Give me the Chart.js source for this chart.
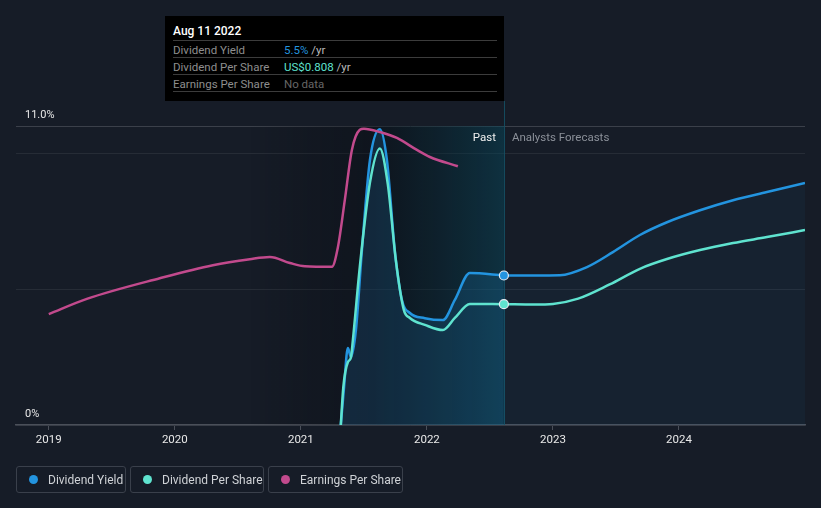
<!DOCTYPE html>
<html>
<head>
<meta charset="utf-8">
<script src="https://cdn.jsdelivr.net/npm/chart.js@4/dist/chart.umd.min.js"></script>
<style>
  html, body { margin:0; padding:0; background:#161c27; width:821px; height:508px; overflow:hidden; font-family: Roboto, "Noto Sans", sans-serif; }
  #wrap { position:relative; width:821px; height:508px; }
  canvas { position:absolute; left:0; top:0; }
  #tip { position:absolute; left:165px; top:16px; width:339px; height:85px; background:#000; box-sizing:border-box; padding:0 7px 0 8px; }
  #tip .hd { color:#fff; font-size:12px; font-weight:500; height:24px; line-height:30px; border-bottom:1px solid #3c3c3c; }
  #tip .row { height:16px; line-height:18px; border-bottom:1px solid #3c3c3c; font-size:11.5px; color:#8e8e8e; position:relative; white-space:nowrap; }
  #tip .row .v { position:absolute; left:111px; top:0; color:#bbb; }
  #legend { position:absolute; left:16px; top:466px; }
  .lg { position:absolute; top:0; height:27px; border:1px solid #3a404b; border-radius:3px; box-sizing:border-box; display:flex; align-items:center; padding-left:12px; color:#cfd2d6; font-size:12px; white-space:nowrap; }
  .lg i { display:inline-block; width:9px; height:9px; border-radius:50%; margin-right:10px; }
</style>
</head>
<body>
<div id="wrap">
  <canvas id="c" width="821" height="508"></canvas>
  <div id="tip">
    <div class="hd">Aug 11 2022</div>
    <div class="row">Dividend Yield<span class="v"><span style="color:#2394df">5.5%</span> /yr</span></div>
    <div class="row">Dividend Per Share<span class="v"><span style="color:#5fe3cf">US$0.808</span> /yr</span></div>
    <div class="row">Earnings Per Share<span class="v" style="color:#666">No data</span></div>
  </div>
  <div id="legend">
    <div class="lg" style="left:0;width:110px"><i style="background:#2394df"></i>Dividend Yield</div>
    <div class="lg" style="left:114px;width:134px"><i style="background:#5fe3cf"></i>Dividend Per Share</div>
    <div class="lg" style="left:252px;width:135px"><i style="background:#c24a8d"></i>Earnings Per Share</div>
  </div>
</div>
<script>
// ---- data (x = decimal year) ----
const xTickYears = [2019, 2020, 2021, 2022, 2023, 2024];
const yTickValues = [0, 5, 10, 11];
const todayYear = 2022.611;      // Aug 11 2022
const pastBandStart = 2021.6;

const yieldPastYears  = [2021.317, 2021.341, 2021.373, 2021.397, 2021.437, 2021.484, 2021.548, 2021.627, 2021.683, 2021.746, 2021.802, 2021.865, 2021.984, 2022.127, 2022.222, 2022.341, 2022.611];
const yieldPastValues = [0, 1.29, 2.83, 2.5, 3.5, 6.4, 9.74, 10.88, 9.74, 6.4, 4.6, 4.12, 3.93, 3.86, 4.6, 5.59, 5.5];

const yieldFcYears  = [2022.611, 2022.85, 2023.056, 2023.27, 2023.476, 2023.69, 2023.905, 2024.167, 2024.429, 2024.698, 2025.0];
const yieldFcValues = [5.5, 5.5, 5.51, 5.81, 6.36, 6.99, 7.46, 7.90, 8.27, 8.57, 8.90];

const dpsPastYears  = [2021.317, 2021.337, 2021.373, 2021.397, 2021.413, 2021.468, 2021.548, 2021.627, 2021.69, 2021.754, 2021.817, 2021.865, 2021.984, 2022.127, 2022.222, 2022.341, 2022.611];
const dpsPastValues = [0, 0.254, 0.42, 0.45, 0.57, 1.06, 1.62, 1.85, 1.61, 1.10, 0.77, 0.716, 0.67, 0.635, 0.716, 0.81, 0.808];

const dpsFcYears  = [2022.611, 2022.85, 2023.0, 2023.2, 2023.45, 2023.69, 2023.905, 2024.167, 2024.429, 2024.698, 2025.0];
const dpsFcValues = [0.808, 0.806, 0.810, 0.845, 0.94, 1.045, 1.11, 1.17, 1.217, 1.257, 1.304];

const epsYears  = [2019.0, 2019.302, 2019.881, 2020.302, 2020.595, 2020.754, 2020.913, 2021.032, 2021.246, 2021.294, 2021.349, 2021.405, 2021.468, 2021.5, 2021.627, 2021.762, 2021.921, 2022.024, 2022.246];
const epsValues = [2.04, 2.32, 2.70, 2.94, 3.05, 3.09, 2.98, 2.92, 2.91, 3.27, 4.14, 5.06, 5.43, 5.45, 5.39, 5.28, 5.06, 4.93, 4.76];

const zip = (xs, ys) => xs.map((x, i) => ({x, y: ys[i]}));
const lastOnly = (arr, r) => arr.map((_, i) => i === arr.length - 1 ? r : 0);

const BLUE = '#2394df', TEAL = '#5fe3cf', MAG = '#c24a8d';

const bandPlugin = {
  id: 'band',
  beforeDatasetsDraw(chart) {
    const {ctx, chartArea: a, scales: {x}} = chart;
    const xs = x.getPixelForValue(pastBandStart);
    const xt = x.getPixelForValue(todayYear);
    const xd = x.getPixelForValue(2020.6);
    ctx.save();
    let g = ctx.createLinearGradient(xd, 0, xs, 0);
    g.addColorStop(0, 'rgba(0,0,0,0)');
    g.addColorStop(1, 'rgba(0,5,10,0.32)');
    ctx.fillStyle = g;
    ctx.fillRect(xd, a.top, xs - xd, a.bottom - a.top);
    g = ctx.createLinearGradient(xs, 0, xt, 0);
    g.addColorStop(0, 'rgba(0,10,15,0.35)');
    g.addColorStop(1, 'rgba(5,75,95,0.45)');
    ctx.fillStyle = g;
    ctx.fillRect(xs, a.top, xt - xs, a.bottom - a.top);
    ctx.strokeStyle = 'rgba(20,80,100,0.9)';
    ctx.lineWidth = 1;
    ctx.beginPath();
    ctx.moveTo(Math.round(xt) + 0.5, a.top - 25);
    ctx.lineTo(Math.round(xt) + 0.5, a.bottom);
    ctx.stroke();
    ctx.restore();
  },
  afterDraw(chart) {
    const {ctx, chartArea: a, scales: {x}} = chart;
    const xt = x.getPixelForValue(todayYear);
    ctx.save();
    ctx.font = '11.5px Roboto, sans-serif';
    ctx.textBaseline = 'middle';
    ctx.textAlign = 'right';
    ctx.fillStyle = '#f0f0f0';
    ctx.fillText('Past', xt - 8, a.top + 12);
    ctx.textAlign = 'left';
    ctx.fillStyle = '#8b9099';
    ctx.fillText('Analysts Forecasts', xt + 8, a.top + 12);
    ctx.restore();
  }
};

const lineBase = { borderWidth: 2.5, cubicInterpolationMode: 'monotone', pointBorderColor: '#e8eef5', pointBorderWidth: 1.2, pointHoverRadius: 0 };

new Chart(document.getElementById('c'), {
  type: 'scatter',
  data: {
    datasets: [
      Object.assign({}, lineBase, { label: 'EPS', data: zip(epsYears, epsValues), borderColor: MAG, yAxisID: 'yE', showLine: true, pointRadius: 0, fill: false }),
      Object.assign({}, lineBase, { label: 'DPS past', data: zip(dpsPastYears, dpsPastValues), borderColor: TEAL, backgroundColor: TEAL, yAxisID: 'yD', showLine: true, pointRadius: lastOnly(dpsPastYears, 4.5), fill: false }),
      Object.assign({}, lineBase, { label: 'DPS fc', data: zip(dpsFcYears, dpsFcValues), borderColor: TEAL, yAxisID: 'yD', showLine: true, pointRadius: 0, fill: false }),
      Object.assign({}, lineBase, { label: 'Yield past', data: zip(yieldPastYears, yieldPastValues), borderColor: BLUE, backgroundColor: BLUE, yAxisID: 'y', showLine: true, pointRadius: lastOnly(yieldPastYears, 4.5), fill: {target: 'origin', above: 'rgba(35,148,223,0.16)'} }),
      Object.assign({}, lineBase, { label: 'Yield fc', data: zip(yieldFcYears, yieldFcValues), borderColor: BLUE, yAxisID: 'y', showLine: true, pointRadius: 0, fill: {target: 'origin', above: 'rgba(35,148,223,0.055)'} })
    ]
  },
  options: {
    responsive: false,
    animation: false,
    layout: { padding: { left: 16, right: 16, top: 126, bottom: 53 } },
    plugins: { legend: { display: false }, tooltip: { enabled: false } },
    scales: {
      x: {
        type: 'linear', min: 2018.74, max: 2025.0,
        afterBuildTicks(s) { s.ticks = xTickYears.map(v => ({value: v})); },
        afterFit(s) { s.height = 30; },
        ticks: { color: '#e8e8e8', font: { family: 'Roboto', size: 11.5 }, padding: 3, callback: v => String(v), maxRotation: 0 },
        grid: { drawOnChartArea: false, drawTicks: true, tickLength: 5, color: '#4a4f59' },
        border: { color: '#4a4f59', width: 1.5 }
      },
      y: {
        position: 'left', min: 0, max: 11,
        afterBuildTicks(s) { s.ticks = yTickValues.map(v => ({value: v})); },
        afterFit(s) { s.width = 0; },
        ticks: { mirror: true, padding: 9, labelOffset: -11, color: '#e8e8e8', font: { family: 'Roboto', size: 11 },
          callback: v => v === 0 ? '0%' : (v === 11 ? '11.0%' : '') },
        grid: { drawTicks: false, lineWidth: 1, color: c => c.tick && c.tick.value === 11 ? '#3b404a' : '#262c36' },
        border: { display: false }
      },
      yD: { display: false, min: 0, max: 2.0 },
      yE: { display: false, min: 0, max: 5.5 }
    }
  },
  plugins: [bandPlugin]
});
</script>
</body>
</html>
